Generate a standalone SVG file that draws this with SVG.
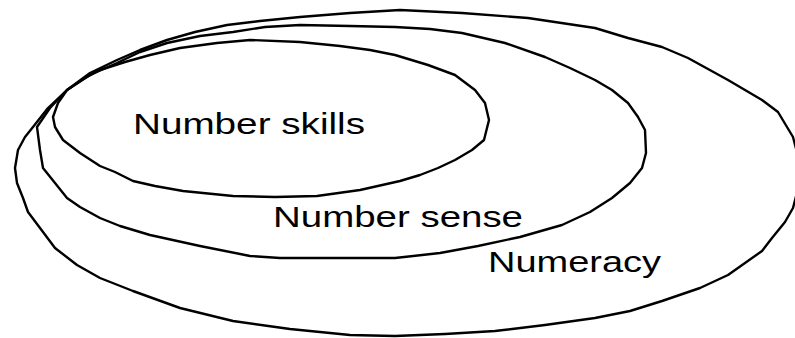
<svg xmlns="http://www.w3.org/2000/svg" width="795" height="338" viewBox="0 0 795 338">
<style>
.ring{fill:none;stroke:#000;stroke-width:2.4;stroke-linejoin:round;stroke-linecap:round}
.lbl{font-family:"Liberation Sans",Arial,sans-serif;font-size:30px;fill:#000}
</style>
<rect width="795" height="338" fill="#fff"/>
<g id="numeracy">
<path class="ring" d="M400,10 L462,13 L528,18 L595,28 L628,38 L662,47 L688,58 L728,80 L762,100 L778,112 L793,137 L799,160 L799,185 L793,208 L785,222 L772,238 L762,251 L745,263 L728,275 L700,288 L662,301 L630,311 L595,318 L545,325 L495,331 L445,334 L395,336 L350,335 L290,329 L233,321 L180,308 L133,291 L100,278 L77,265 L55,248 L40,228 L28,212 L23,198 L17,183 L15,168 L18,150 L25,137 L33,127 L48,108 L67,90 L90,73 L117,60 L140,50 L167,40 L195,32 L227,25 L260,21 L300,17 L350,13 Z"/>
<text class="lbl" x="488" y="272" textLength="173" lengthAdjust="spacingAndGlyphs">Numeracy</text>
</g>
<g id="number-sense">
<path class="ring" d="M395,27 L430,29 L462,33 L505,43 L545,57 L570,68 L595,80 L612,90 L628,103 L638,117 L645,130 L646,153 L642,168 L630,183 L612,198 L590,212 L562,225 L520,237 L478,246 L440,253 L395,258 L330,258 L280,258 L250,256 L200,246 L150,235 L120,226 L100,218 L80,207 L67,198 L55,183 L43,168 L40,150 L37,127 L50,108 L67,90 L90,75 L117,63 L140,52 L167,43 L200,36 L233,32 L265,27 L300,25 L350,26 Z"/>
<text class="lbl" x="273" y="227" textLength="250" lengthAdjust="spacingAndGlyphs">Number sense</text>
</g>
<g id="number-skills">
<path class="ring" d="M395,55 L428,65 L455,75 L475,90 L485,103 L489,120 L484,140 L472,150 L455,160 L438,168 L420,175 L400,181 L360,190 L317,196 L275,197 L233,196 L183,191 L155,186 L133,181 L115,172 L100,166 L80,153 L63,140 L55,127 L53,117 L58,103 L67,90 L85,78 L100,70 L125,62 L150,55 L180,48 L217,43 L250,40 L300,42 L340,46 L370,50 Z"/>
<text class="lbl" x="133" y="134" textLength="232" lengthAdjust="spacingAndGlyphs">Number skills</text>
</g>
</svg>
